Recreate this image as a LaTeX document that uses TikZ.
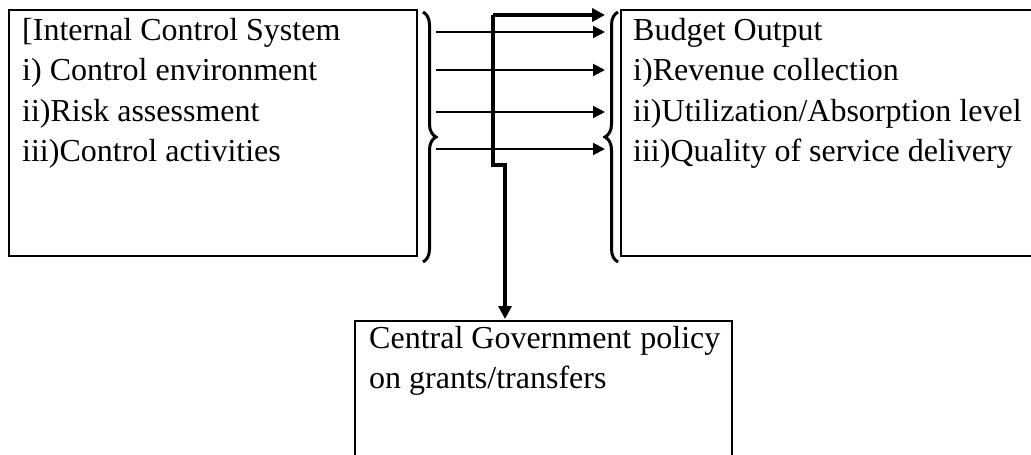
\documentclass[tikz,border=0pt]{standalone}
\usepackage{fontspec}
\setmainfont{Liberation Serif}
\usetikzlibrary{arrows.meta,decorations.pathreplacing}
\tikzset{
  box/.style={draw, line width=2pt, anchor=north west, inner sep=0pt, outer sep=0pt},
  txt/.style={anchor=north west, align=left, inner sep=0pt, font=\fontsize{32}{40.5}\selectfont},
  link/.style={line width=2pt, -{Triangle[length=12pt,width=12pt]}},
  mainlink/.style={line width=4.8pt, -{Triangle[length=13pt,width=13pt]}},
  curly/.style={line width=3pt, decorate, decoration={brace, amplitude=13pt}}
}
\begin{document}
\begin{tikzpicture}[x=1pt,y=-1pt]
    \useasboundingbox (0,0) rectangle (1031,455);
    % boxes
    \node[box, minimum width=408pt, minimum height=246pt] (ics) at (9,10) {};
    \node[box, minimum width=430pt, minimum height=246pt] (output) at (621,10) {};
    \node[box, minimum width=377pt, minimum height=160pt] (policy) at (355,321) {};
    \node[txt] (icsText) at (22,18) {[Internal Control System\\i) Control environment\\ii)Risk assessment\\iii)Control activities};
    \node[txt] (outputText) at (633,18) {Budget Output\\i)Revenue collection\\ii)Utilization/Absorption level\\iii)Quality of service delivery};
    \node[txt] (policyText) at (369,326) {Central Government\hspace{9pt}policy\\on grants/transfers};
    % braces
    \draw[curly] (423,12) -- (423,262);
    \draw[curly] (618,262) -- (618,12);
    % arrows between the braces
    \foreach \y [count=\i] in {32,70,112,149} {
        \coordinate (from\i) at (436,\y);
        \coordinate (to\i) at (605,\y);
        \draw[link] (from\i) -- (to\i);
    }
    % thick line down to the policy box
    \coordinate (split) at (493,15);
    \coordinate (to0) at (605,15);
    \coordinate (jog) at (493,165);
    \coordinate (drop) at (505,165);
    \draw[mainlink] (split) -- (to0);
    \draw[mainlink, shorten >=2pt] (split) -- (jog) -- (drop) -- (drop |- policy.north);
\end{tikzpicture}
\end{document}
